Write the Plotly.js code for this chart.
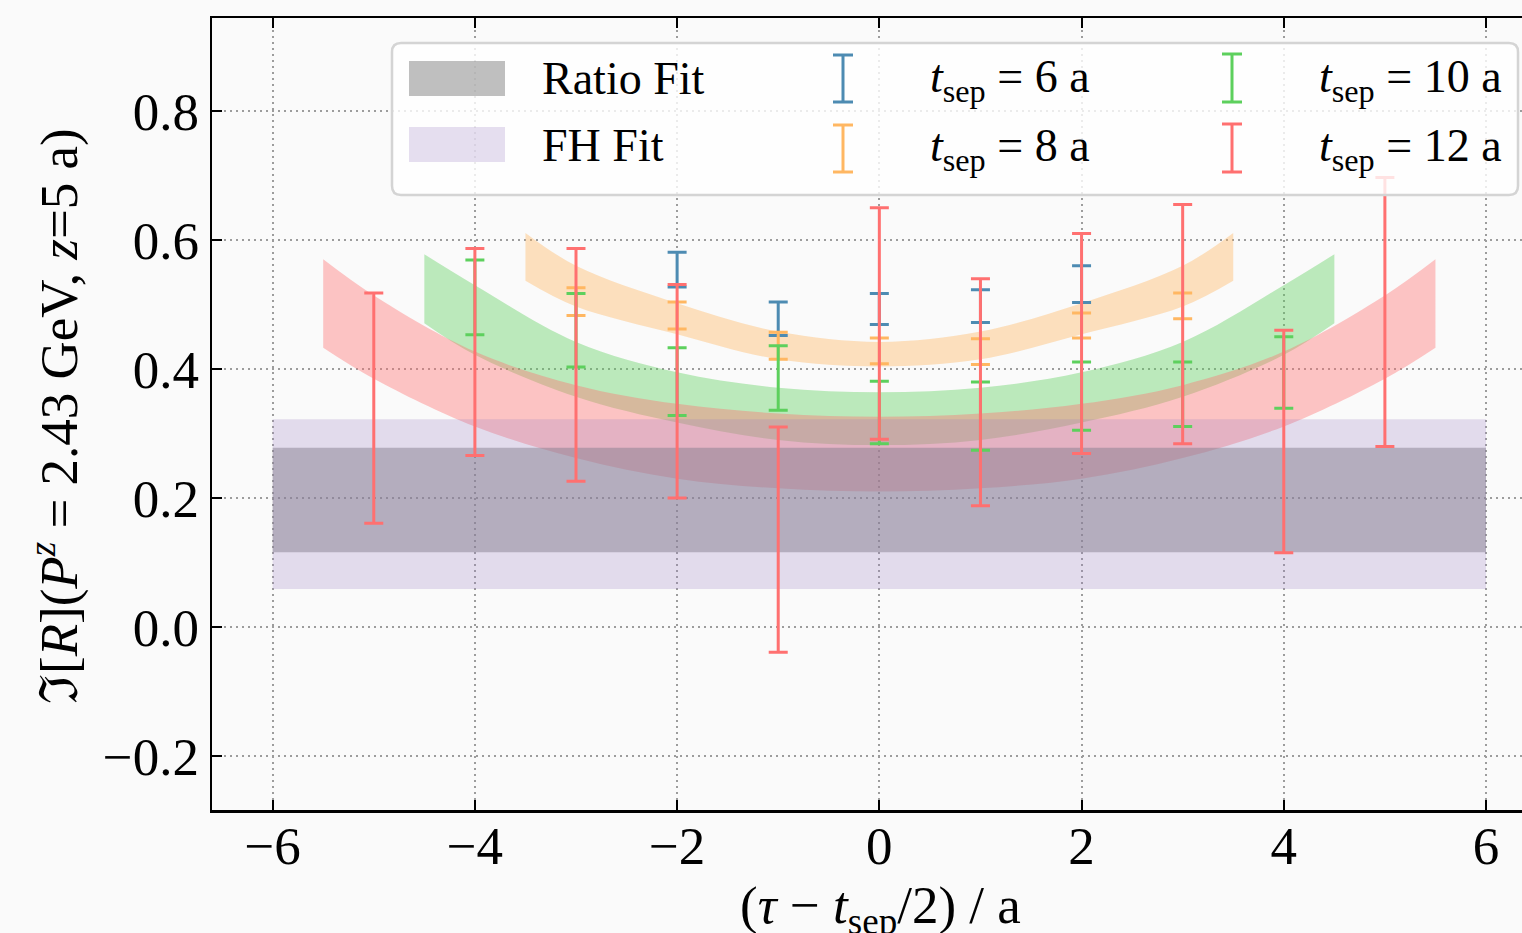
<!DOCTYPE html>
<html>
<head>
<meta charset="utf-8">
<script src="https://cdn.plot.ly/plotly-3.0.1.min.js"></script>
<style>
  html, body { margin: 0; padding: 0; background: #fafafa; }
  #chart { width: 1522px; height: 933px; }
</style>
</head>
<body>
<div id="chart"></div>
<script>
// ---- data ---------------------------------------------------------------
// constant fit results (lower, upper), drawn across bandRangeX
const bandRangeX   = [-6, 6];
const ratioFitBand = [0.116, 0.278];
const fhFitBand    = [0.059, 0.322];

// lattice data, x = (tau - tsep/2) / a
const x6  = [-2, -1, 0, 1, 2];
const y6  = [0.554, 0.478, 0.493, 0.4975, 0.5315];
const e6  = [0.027, 0.026, 0.024, 0.0255, 0.0285];

const x8  = [-3, -2, -1, 0, 1, 2, 3];
const y8  = [0.5045, 0.483, 0.436, 0.428, 0.427, 0.4675, 0.498];
const e8  = [0.0215, 0.021, 0.021, 0.020, 0.020, 0.0195, 0.020];

const x10 = [-4, -3, -2, -1, 0, 1, 2, 3, 4];
const y10 = [0.511, 0.460, 0.3805, 0.386, 0.3325, 0.327, 0.358, 0.361, 0.3945];
const e10 = [0.058, 0.057, 0.0525, 0.050, 0.0485, 0.053, 0.053, 0.050, 0.0555];

const x12 = [-5, -4, -3, -2, -1, 0, 1, 2, 3, 4, 5];
const y12 = [0.3395, 0.4265, 0.4065, 0.3655, 0.1355, 0.4705, 0.364, 0.4395, 0.4695, 0.2875, 0.4885];
const e12 = [0.1785, 0.1605, 0.1805, 0.1655, 0.1745, 0.1795, 0.176, 0.1705, 0.1855, 0.1725, 0.2085];

// ratio-fit curves per tsep (lower / upper edge of the 1-sigma band)
const fit8X   = [-3.5, -3, -2, -1, 0, 1, 2, 3, 3.5];
const fit8Lo  = [0.537, 0.497, 0.454, 0.415, 0.404, 0.415, 0.454, 0.497, 0.537];
const fit8Hi  = [0.611, 0.560, 0.502, 0.458, 0.442, 0.458, 0.502, 0.560, 0.611];

const fit10X  = [-4.5, -4, -3, -2, -1, 0, 1, 2, 3, 4, 4.5];
const fit10Lo = [0.471, 0.422, 0.357, 0.317, 0.290, 0.282, 0.290, 0.317, 0.357, 0.422, 0.471];
const fit10Hi = [0.578, 0.530, 0.442, 0.395, 0.371, 0.364, 0.371, 0.395, 0.442, 0.530, 0.578];

const fit12X  = [-5.5, -5, -4, -3, -2, -1, 0, 1, 2, 3, 4, 5, 5.5];
const fit12Lo = [0.433, 0.385, 0.311, 0.262, 0.230, 0.215, 0.210, 0.215, 0.230, 0.262, 0.311, 0.385, 0.433];
const fit12Hi = [0.570, 0.514, 0.427, 0.375, 0.346, 0.331, 0.326, 0.331, 0.346, 0.375, 0.427, 0.514, 0.570];

// axes
const xTicks = [-6, -4, -2, 0, 2, 4, 6];
const yTicks = [-0.2, 0.0, 0.2, 0.4, 0.6, 0.8];

// legend labels
const bandLabels = ['Ratio Fit', 'FH Fit'];
const tsepValues = [6, 8, 10, 12];

// ---- styles -------------------------------------------------------------
const FONT = 'Liberation Serif, "Times New Roman", Times, serif';
const C6 = '#4d8bb2', C8 = '#ffb762', C10 = '#5dd05d', C12 = '#ff7070';
const GRAY = 'rgba(128,128,128,0.5)';
const LAV  = 'rgba(154,126,194,0.25)';
function alpha(hex, a) {
  const n = parseInt(hex.slice(1), 16);
  return `rgba(${(n >> 16) & 255},${(n >> 8) & 255},${n & 255},${a})`;
}

// ---- traces -------------------------------------------------------------
const traces = [];

function curveBand(xs, lo, hi, color) {
  traces.push({x: xs, y: lo, mode: 'lines', line: {width: 0, shape: 'spline'},
               hoverinfo: 'skip', showlegend: false});
  traces.push({x: xs, y: hi, mode: 'lines', line: {width: 0, shape: 'spline'},
               fill: 'tonexty', fillcolor: alpha(color, 0.4),
               hoverinfo: 'skip', showlegend: false});
}
curveBand(fit8X,  fit8Lo,  fit8Hi,  C8);
curveBand(fit10X, fit10Lo, fit10Hi, C10);
curveBand(fit12X, fit12Lo, fit12Hi, C12);

function flatBand(band, color) {
  traces.push({
    x: [bandRangeX[0], bandRangeX[1], bandRangeX[1], bandRangeX[0]],
    y: [band[0], band[0], band[1], band[1]],
    mode: 'lines', line: {width: 0}, fill: 'toself', fillcolor: color,
    hoverinfo: 'skip', showlegend: false
  });
}
flatBand(ratioFitBand, GRAY);
flatBand(fhFitBand, LAV);

function errSeries(xs, ys, es, color) {
  traces.push({
    x: xs, y: ys, mode: 'markers', type: 'scatter',
    marker: {size: 4, color: 'rgba(0,0,0,0)'},
    error_y: {type: 'data', array: es, visible: true, color: color, thickness: 3, width: 9.5},
    hoverinfo: 'skip', showlegend: false
  });
}
errSeries(x6,  y6,  e6,  C6);
errSeries(x8,  y8,  e8,  C8);
errSeries(x10, y10, e10, C10);
errSeries(x12, y12, e12, C12);

// ---- layout -------------------------------------------------------------
const W = 1522, H = 933;
const M = {l: 212, r: 0, t: 18, b: 123};
const PW = W - M.l - M.r, PH = H - M.t - M.b;
const fx = px => (px - M.l) / PW;
const fy = py => (H - M.b - py) / PH;

function roundRect(x0, y0, x1, y1, r) {
  const p = (x, y) => `${fx(x)},${fy(y)}`;
  return `M${p(x0 + r, y0)} L${p(x1 - r, y0)} Q${p(x1, y0)} ${p(x1, y0 + r)} ` +
         `L${p(x1, y1 - r)} Q${p(x1, y1)} ${p(x1 - r, y1)} ` +
         `L${p(x0 + r, y1)} Q${p(x0, y1)} ${p(x0, y1 - r)} ` +
         `L${p(x0, y0 + r)} Q${p(x0, y0)} ${p(x0 + r, y0)} Z`;
}
function iBar(cx, top, bot, w) {
  return `M${fx(cx)},${fy(top)} L${fx(cx)},${fy(bot)} ` +
         `M${fx(cx - w)},${fy(top)} L${fx(cx + w)},${fy(top)} ` +
         `M${fx(cx - w)},${fy(bot)} L${fx(cx + w)},${fy(bot)}`;
}

const shapes = [
  {type: 'path', xref: 'paper', yref: 'paper', layer: 'above',
   path: roundRect(392, 43, 1518, 195, 9),
   fillcolor: 'rgba(255,255,255,0.8)', line: {color: '#d4d4d4', width: 2.5}},
  {type: 'rect', xref: 'paper', yref: 'paper', layer: 'above',
   x0: fx(409), x1: fx(505), y0: fy(61), y1: fy(96), fillcolor: GRAY, line: {width: 0}},
  {type: 'rect', xref: 'paper', yref: 'paper', layer: 'above',
   x0: fx(409), x1: fx(505), y0: fy(127), y1: fy(162), fillcolor: LAV, line: {width: 0}}
];
const barColors = [C6, C8, C10, C12];
const legendCols = [843, 843, 1232, 1232];
const legendRows = [[55, 102], [125, 172], [54, 102], [124, 172]];
barColors.forEach((c, i) => {
  shapes.push({type: 'path', xref: 'paper', yref: 'paper', layer: 'above',
               path: iBar(legendCols[i], legendRows[i][0], legendRows[i][1], 10),
               line: {color: c, width: 3}});
});

const LF = {family: FONT, size: 46, color: '#000'};
const TF = {family: FONT, size: 53, color: '#000'};
const annotations = [
  {text: bandLabels[0], x: fx(540), y: fy(79), xanchor: 'left', yanchor: 'middle'},
  {text: bandLabels[1], x: fx(540), y: fy(145), xanchor: 'left', yanchor: 'middle'},
];
const textCols = [928, 928, 1317, 1317];
const textRows = [80, 149, 80, 149];
tsepValues.forEach((t, i) => {
  annotations.push({text: `<i>t</i><sub>sep</sub> = ${t} a`, x: fx(textCols[i]), y: fy(textRows[i]),
                    xanchor: 'left', yanchor: 'middle'});
});
annotations.forEach(a => { a.xref = 'paper'; a.yref = 'paper'; a.showarrow = false; a.font = LF; });

// axis titles
annotations.push({
  text: '(<i>τ</i> − <i>t</i><sub>sep</sub>/2) / a',
  xref: 'paper', yref: 'paper', x: fx(880), y: fy(909), xanchor: 'center', yanchor: 'middle',
  showarrow: false, font: TF
});
annotations.push({
  text: 'ℑ[<i>R</i>](<i>P</i><sup><i>z</i></sup> = 2.43 GeV, <i>z</i>=5 a)',
  xref: 'paper', yref: 'paper', x: fx(55), y: fy(416), xanchor: 'center', yanchor: 'middle',
  textangle: -90, showarrow: false, font: TF
});

const axisCommon = {
  ticks: 'inside', ticklen: 10, tickwidth: 2, tickcolor: '#000',
  showline: true, linewidth: 2.5, linecolor: '#000',
  showgrid: true, gridcolor: '#9c9c9c', gridwidth: 2, griddash: '2px,4px',
  zeroline: false, tickfont: {family: FONT, size: 53, color: '#000'}
};

const layout = {
  width: W, height: H, margin: Object.assign({pad: 0}, M),
  paper_bgcolor: '#fafafa', plot_bgcolor: '#fafafa',
  showlegend: false,
  font: {family: FONT, size: 53, color: '#000'},
  xaxis: Object.assign({}, axisCommon, {range: [-6.6, 6.356], tickvals: xTicks, mirror: 'allticks',
                                        ticklabelstandoff: -12}),
  yaxis: Object.assign({}, axisCommon, {range: [-0.2837, 0.9442], tickvals: yTicks, tickformat: '.1f', mirror: false}),
  shapes: shapes,
  annotations: annotations
};

Plotly.newPlot('chart', traces, layout, {staticPlot: true, displayModeBar: false});
</script>
</body>
</html>
